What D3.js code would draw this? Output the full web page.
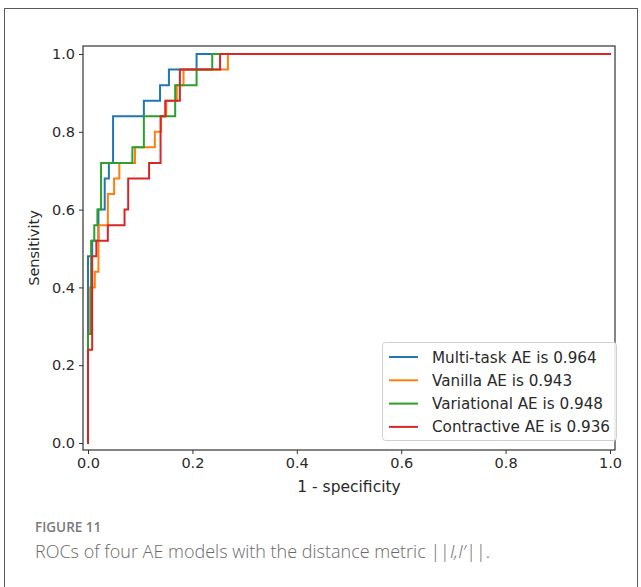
<!DOCTYPE html>
<html><head><meta charset="utf-8">
<script src="https://cdn.jsdelivr.net/npm/d3@7"></script>
<style>body{margin:0;background:#fff;} svg{display:block;}</style>
</head><body>
<svg id="chart" width="641" height="587"></svg>
<script>
// ---- data ----
const seriesNames = ["Multi-task AE is 0.964","Vanilla AE is 0.943","Variational AE is 0.948","Contractive AE is 0.936"];
const seriesColors = ["#1f77b4","#ff7f0e","#2ca02c","#d62728"];
const multiFpr = [0,0,0.008,0.008,0.02,0.02,0.032,0.032,0.04,0.04,0.048,0.048,0.107,0.107,0.138,0.138,0.155,0.155,0.208,0.208,1];
const multiTpr = [0,0.48,0.48,0.52,0.52,0.6,0.6,0.68,0.68,0.72,0.72,0.84,0.84,0.88,0.88,0.92,0.92,0.96,0.96,1,1];
const vanillaFpr = [0,0,0.004,0.004,0.013,0.013,0.02,0.02,0.038,0.038,0.05,0.05,0.06,0.06,0.09,0.09,0.128,0.128,0.14,0.14,0.15,0.15,0.17,0.17,0.183,0.183,0.268,0.268,1];
const vanillaTpr = [0,0.28,0.28,0.4,0.4,0.44,0.44,0.56,0.56,0.64,0.64,0.68,0.68,0.72,0.72,0.76,0.76,0.8,0.8,0.84,0.84,0.88,0.88,0.92,0.92,0.96,0.96,1,1];
const variationalFpr = [0,0,0.006,0.006,0.012,0.012,0.018,0.018,0.025,0.025,0.085,0.085,0.107,0.107,0.167,0.167,0.208,0.208,0.238,0.238,1];
const variationalTpr = [0,0.28,0.28,0.52,0.52,0.56,0.56,0.6,0.6,0.72,0.72,0.76,0.76,0.84,0.84,0.92,0.92,0.96,0.96,1,1];
const contractiveFpr = [0,0,0.008,0.008,0.016,0.016,0.038,0.038,0.07,0.07,0.077,0.077,0.117,0.117,0.139,0.139,0.148,0.148,0.176,0.176,0.253,0.253,1];
const contractiveTpr = [0,0.24,0.24,0.48,0.48,0.52,0.52,0.56,0.56,0.6,0.6,0.68,0.68,0.72,0.72,0.84,0.84,0.88,0.88,0.96,0.96,1,1];
const tickValues = [0,0.2,0.4,0.6,0.8,1.0];
const xLabel = "1 - specificity";
const yLabel = "Sensitivity";
const figLabel = "FIGURE 11";

const series = [
  {fpr: multiFpr, tpr: multiTpr},
  {fpr: vanillaFpr, tpr: vanillaTpr},
  {fpr: variationalFpr, tpr: variationalTpr},
  {fpr: contractiveFpr, tpr: contractiveTpr}
];

const svg = d3.select("#chart");
// outer frame
svg.append("rect").attr("x",4.5).attr("y",8.5).attr("width",633).attr("height",620)
  .attr("fill","none").attr("stroke","#5a5a5a").attr("stroke-width",1);

const L=83, R=615, T=46, B=450;
const x = d3.scaleLinear().domain([-0.0096,1.0096]).range([L,R]);
const y = d3.scaleLinear().domain([-0.018,1.0206]).range([B,T]);

const font = "'DejaVu Sans', sans-serif";

svg.append("clipPath").attr("id","clp").append("rect")
  .attr("x",L).attr("y",T).attr("width",R-L).attr("height",B-T);

const line = d3.line().x(d=>x(d[0])).y(d=>y(d[1]));
const g = svg.append("g").attr("clip-path","url(#clp)");
series.forEach((s,i)=>{
  const pts = s.fpr.map((f,j)=>[f,s.tpr[j]]);
  g.append("path").datum(pts).attr("d",line).attr("fill","none")
    .attr("stroke",seriesColors[i]).attr("stroke-width",2)
    .attr("stroke-linejoin","miter").attr("stroke-linecap","square");
});

// axes
const xAxis = d3.axisBottom(x).tickValues(tickValues).tickFormat(d3.format(".1f")).tickSize(4).tickPadding(4);
const yAxis = d3.axisLeft(y).tickValues(tickValues).tickFormat(d3.format(".1f")).tickSize(4).tickPadding(4);
const gx = svg.append("g").attr("transform",`translate(0,${B})`).call(xAxis);
const gy = svg.append("g").attr("transform",`translate(${L},0)`).call(yAxis);
[gx,gy].forEach(a=>{
  a.select(".domain").remove();
  a.selectAll("line").attr("stroke","#333").attr("stroke-width",1);
  a.selectAll("text").attr("font-family",font).attr("font-size",14.5).attr("fill","#2a2a2a");
});
svg.append("rect").attr("x",L).attr("y",T).attr("width",R-L).attr("height",B-T)
  .attr("fill","none").attr("stroke","#333").attr("stroke-width",1.2);

svg.append("text").attr("x",(L+R)/2 + 0).attr("y",492).attr("text-anchor","middle")
  .attr("font-family",font).attr("font-size",15.5).attr("fill","#2a2a2a").text(xLabel);
svg.append("text").attr("transform","translate(39,248) rotate(-90)").attr("text-anchor","middle")
  .attr("font-family",font).attr("font-size",14.5).attr("fill","#2a2a2a").text(yLabel);

// legend
const lg = svg.append("g");
lg.append("rect").attr("x",382.5).attr("y",342.5).attr("width",234).attr("height",98).attr("rx",3)
  .attr("fill","#fff").attr("fill-opacity",0.85).attr("stroke","#d0d0d0");
seriesNames.forEach((n,i)=>{
  const yy = 357 + i*23.3;
  lg.append("line").attr("x1",389).attr("x2",418).attr("y1",yy).attr("y2",yy)
    .attr("stroke",seriesColors[i]).attr("stroke-width",2);
  lg.append("text").attr("x",432).attr("y",yy+5.5).attr("font-family",font).attr("font-size",15.2)
    .attr("fill","#2a2a2a").text(n);
});

// caption
svg.append("text").attr("x",35).attr("y",532).attr("font-family","'Open Sans', sans-serif")
  .attr("font-size",13.5).attr("font-weight",600).attr("fill","#7a7a7a").text(figLabel);
const cap = svg.append("text").attr("x",35).attr("y",558).attr("font-family","'Open Sans', sans-serif")
  .attr("font-size",18).attr("font-weight",300).attr("fill","#6a6a6a");
cap.append("tspan").text("ROCs of four AE models with the distance metric ||");
cap.append("tspan").attr("font-style","italic").text("I,I′");
cap.append("tspan").text("||.");
</script>
</body></html>
